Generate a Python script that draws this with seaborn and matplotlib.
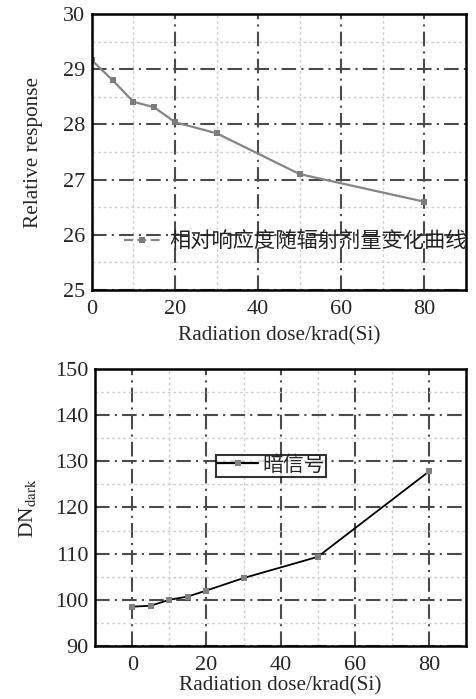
import numpy as np
import pandas as pd
import seaborn as sns
import matplotlib.pyplot as plt
from matplotlib.lines import Line2D
from matplotlib.ticker import MultipleLocator

# data
dose = [0, 5, 10, 15, 20, 30, 50, 80]
rel_response = [29.16, 28.80, 28.41, 28.31, 28.04, 27.84, 27.10, 26.60]
dn_dark = [98.5, 98.7, 100.0, 100.7, 102.0, 104.7, 109.3, 127.8]

label_top = '相对响应度随辐射剂量变化曲线'
label_bottom = '暗信号'
xlabel = 'Radiation dose/krad(Si)'

sns.set_style('white')
plt.rcParams['font.family'] = ['Liberation Serif', 'Noto Sans CJK SC']
plt.rcParams['mathtext.fontset'] = 'stix'

df = pd.DataFrame({'dose': dose, 'rel': rel_response, 'dark': dn_dark})

fig = plt.figure(figsize=(4.76, 6.99), dpi=100)
ax1 = fig.add_axes([0.193, 0.585, 0.786, 0.395])
ax2 = fig.add_axes([0.200, 0.076, 0.779, 0.396])

major_style = dict(which='major', color='#4a4a4a', linewidth=1.5,
                   linestyle=(0, (7, 2.5, 1, 2.5)))
minor_style = dict(which='minor', color='#cfcfcf', linewidth=1.0,
                   linestyle=(0, (2, 2)))


def style_axes(ax, xpad):
    ax.xaxis.set_major_locator(MultipleLocator(20))
    ax.xaxis.set_minor_locator(MultipleLocator(10))
    ax.grid(**minor_style)
    ax.grid(**major_style)
    ax.set_axisbelow(True)
    for sp in ax.spines.values():
        sp.set_color('black')
        sp.set_linewidth(1.8)
    ax.tick_params(which='both', length=0, labelsize=16)
    ax.tick_params(axis='x', pad=7)
    ax.tick_params(axis='y', pad=5)
    ax.set_xlabel(xlabel, fontsize=15.3, labelpad=xpad)


# top panel: relative response
sns.lineplot(data=df, x='dose', y='rel', ax=ax1, color='#858585', linewidth=1.6,
             marker='s', markersize=5, markeredgewidth=0, markerfacecolor='#7c7c7c')
ax1.set_xlim(0, 90)
ax1.set_ylim(25, 30)
ax1.yaxis.set_major_locator(MultipleLocator(1))
ax1.yaxis.set_minor_locator(MultipleLocator(0.5))
style_axes(ax1, 5)
ax1.set_ylabel('Relative response', fontsize=15.3, labelpad=14)
h1 = Line2D([], [], color='#858585', linewidth=1.6, linestyle=(0, (4, 2)),
            marker='s', markersize=5, markeredgewidth=0, markerfacecolor='#7c7c7c')
leg1 = ax1.legend([h1], [label_top], loc='upper left', bbox_to_anchor=(0.085, 0.21),
                  frameon=False, fontsize=15.3, handlelength=1.75, handletextpad=0.42,
                  borderaxespad=0, borderpad=0)
for t in leg1.get_texts():
    t.set_color('#222222')

# bottom panel: dark signal
sns.lineplot(data=df, x='dose', y='dark', ax=ax2, color='black', linewidth=1.3,
             marker='s', markersize=5, markeredgewidth=0, markerfacecolor='#808080')
ax2.set_xlim(-10, 90)
ax2.set_ylim(90, 150)
ax2.yaxis.set_major_locator(MultipleLocator(10))
ax2.yaxis.set_minor_locator(MultipleLocator(5))
style_axes(ax2, 1.5)
ax2.set_ylabel('DN$_{\\mathrm{dark}}$', fontsize=15.5, labelpad=12)
h2 = Line2D([], [], color='black', linewidth=1.6,
            marker='s', markersize=5, markeredgewidth=0, markerfacecolor='#808080')
leg2 = ax2.legend([h2], [label_bottom], loc='upper left', bbox_to_anchor=(0.325, 0.69),
                  frameon=True, fancybox=False, fontsize=15, handlelength=2.0,
                  handletextpad=0.2, borderaxespad=0, borderpad=0.05)
leg2.get_frame().set_edgecolor('black')
leg2.get_frame().set_linewidth(1.5)

fig.savefig('out.png', dpi=100)
